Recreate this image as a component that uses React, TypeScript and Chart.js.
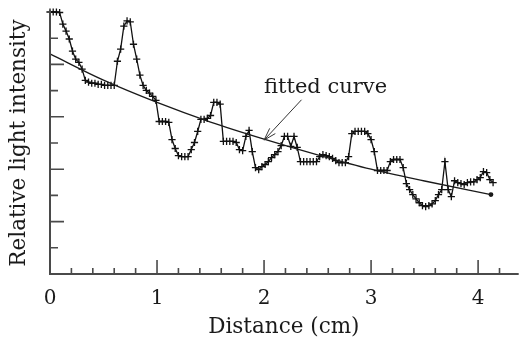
import React, { useEffect, useRef } from 'react';
import { Chart, registerables } from 'chart.js';

Chart.register(...registerables);

// Distance along the sample (cm)
const DISTANCE = [
  0, 0.03, 0.06, 0.09, 0.12, 0.15, 0.18, 0.21, 0.24, 0.27,
  0.3, 0.33, 0.36, 0.39, 0.42, 0.45, 0.48, 0.51, 0.54, 0.57,
  0.6, 0.63, 0.66, 0.69, 0.72, 0.75, 0.78, 0.81, 0.84, 0.87,
  0.9, 0.93, 0.96, 0.99, 1.02, 1.05, 1.08, 1.11, 1.14, 1.17,
  1.2, 1.23, 1.26, 1.29, 1.32, 1.35, 1.38, 1.41, 1.44, 1.47,
  1.5, 1.53, 1.56, 1.59, 1.62, 1.65, 1.68, 1.71, 1.74, 1.77,
  1.8, 1.83, 1.86, 1.89, 1.92, 1.95, 1.98, 2.01, 2.04, 2.07,
  2.1, 2.13, 2.16, 2.19, 2.22, 2.25, 2.28, 2.31, 2.34, 2.37,
  2.4, 2.43, 2.46, 2.49, 2.52, 2.55, 2.58, 2.61, 2.64, 2.67,
  2.7, 2.73, 2.76, 2.79, 2.82, 2.85, 2.88, 2.91, 2.94, 2.97,
  3.0, 3.03, 3.06, 3.09, 3.12, 3.15, 3.18, 3.21, 3.24, 3.27,
  3.3, 3.33, 3.36, 3.39, 3.42, 3.45, 3.48, 3.51, 3.54, 3.57,
  3.6, 3.63, 3.66, 3.69, 3.72, 3.75, 3.78, 3.81, 3.84, 3.87,
  3.9, 3.93, 3.96, 3.99, 4.02, 4.05, 4.08, 4.11, 4.14,
];

// Measured relative light intensity
const INTENSITY = [
  10.0, 10.0, 10.0, 9.98, 9.54, 9.27, 8.97, 8.51, 8.2, 8.08,
  7.82, 7.39, 7.32, 7.28, 7.28, 7.24, 7.24, 7.2, 7.2, 7.2,
  7.2, 8.12, 8.58, 9.46, 9.66, 9.62, 8.77, 8.2, 7.59, 7.2,
  7.01, 6.9, 6.78, 6.63, 5.82, 5.82, 5.82, 5.79, 5.13, 4.79,
  4.52, 4.48, 4.48, 4.48, 4.75, 5.02, 5.44, 5.9, 5.9, 5.94,
  6.05, 6.55, 6.55, 6.48, 5.06, 5.06, 5.06, 5.06, 5.02, 4.75,
  4.71, 5.25, 5.48, 4.67, 4.06, 3.98, 4.1, 4.18, 4.29, 4.44,
  4.56, 4.67, 4.9, 5.25, 5.25, 4.87, 5.25, 4.83, 4.29, 4.29,
  4.29, 4.29, 4.29, 4.29, 4.48, 4.56, 4.52, 4.48, 4.41, 4.33,
  4.25, 4.25, 4.25, 4.48, 5.36, 5.44, 5.44, 5.44, 5.44, 5.36,
  5.13, 4.67, 3.95, 3.95, 3.95, 3.95, 4.29, 4.37, 4.37, 4.37,
  4.06, 3.45, 3.22, 3.03, 2.87, 2.72, 2.61, 2.57, 2.61, 2.68,
  2.8, 3.03, 3.22, 4.29, 3.22, 2.95, 3.56, 3.49, 3.45, 3.41,
  3.49, 3.52, 3.52, 3.6, 3.68, 3.91, 3.87, 3.6, 3.49,
];

// Fitted curve
const FIT_DISTANCE = [0, 0.5, 1, 1.5, 2, 2.5, 3, 3.5, 4.12];
const FIT_INTENSITY = [8.4, 7.4, 6.55, 5.8, 5.15, 4.55, 4.0, 3.55, 3.03];

// Axis ticks
const X_MAJOR = [0, 1, 2, 3, 4];
const X_MINOR = [0.2, 0.4, 0.6, 0.8, 1.2, 1.4, 1.6, 1.8, 2.2, 2.4, 2.6, 2.8, 3.2, 3.4, 3.6, 3.8, 4.2];
const Y_TICKS = [1, 2, 3, 4, 5, 6, 7, 8, 9];

const X_TITLE = 'Distance (cm)';
const Y_TITLE = 'Relative light intensity';
const NOTE_TEXT = 'fitted curve';

const FONT = '"DejaVu Serif", serif';
const INK = '#1a1a1a';
const AXIS = '#4a4a4a';

const axesPlugin = {
  id: 'inwardAxes',
  afterDatasetsDraw(chart: any) {
    const { ctx, chartArea, scales } = chart;
    const x = scales.x;
    const y = scales.y;
    const x0 = x.getPixelForValue(0);
    const yb = y.getPixelForValue(0);
    ctx.save();
    ctx.strokeStyle = AXIS;
    ctx.lineWidth = 2;
    ctx.beginPath();
    ctx.moveTo(x0, y.getPixelForValue(10) - 2);
    ctx.lineTo(x0, yb);
    ctx.lineTo(chartArea.right + 1, yb);
    ctx.stroke();
    ctx.lineWidth = 1.6;
    ctx.beginPath();
    X_MAJOR.forEach((v) => {
      const p = x.getPixelForValue(v);
      ctx.moveTo(p, yb);
      ctx.lineTo(p, yb - 14);
    });
    X_MINOR.forEach((v) => {
      const p = x.getPixelForValue(v);
      ctx.moveTo(p, yb);
      ctx.lineTo(p, yb - 6);
    });
    Y_TICKS.forEach((v, i) => {
      const p = y.getPixelForValue(v);
      ctx.moveTo(x0, p);
      ctx.lineTo(x0 + (i % 2 === 0 ? 8 : 14), p);
    });
    ctx.stroke();
    ctx.restore();
  },
};

const notePlugin = {
  id: 'fitNote',
  afterDatasetsDraw(chart: any) {
    const { ctx, scales } = chart;
    const x = scales.x;
    const y = scales.y;
    // arrow tip sits on the fitted curve at x = 2
    const tipX = x.getPixelForValue(FIT_DISTANCE[4]);
    const tipY = y.getPixelForValue(FIT_INTENSITY[4]) + 1;
    const tailX = x.getPixelForValue(2.35);
    const tailY = y.getPixelForValue(6.65);
    ctx.save();
    ctx.strokeStyle = '#333';
    ctx.lineWidth = 1;
    ctx.beginPath();
    ctx.moveTo(tailX, tailY);
    ctx.lineTo(tipX, tipY);
    const ang = Math.atan2(tipY - tailY, tipX - tailX);
    const len = 13;
    const spread = 0.3;
    ctx.moveTo(tipX, tipY);
    ctx.lineTo(tipX - len * Math.cos(ang - spread), tipY - len * Math.sin(ang - spread));
    ctx.moveTo(tipX, tipY);
    ctx.lineTo(tipX - len * Math.cos(ang + spread), tipY - len * Math.sin(ang + spread));
    ctx.stroke();
    ctx.fillStyle = INK;
    ctx.font = `21px ${FONT}`;
    ctx.textAlign = 'left';
    ctx.textBaseline = 'alphabetic';
    ctx.fillText(NOTE_TEXT, x.getPixelForValue(2.0), y.getPixelForValue(6.91));
    ctx.restore();
  },
};

export default function App() {
  const ref = useRef<HTMLCanvasElement | null>(null);

  useEffect(() => {
    if (!ref.current) return;
    const measured = DISTANCE.map((d, i) => ({ x: d, y: INTENSITY[i] }));
    const fitted = FIT_DISTANCE.map((d, i) => ({ x: d, y: FIT_INTENSITY[i] }));
    const chart = new Chart(ref.current, {
      type: 'scatter',
      data: {
        datasets: [
          {
            label: 'fitted curve',
            data: fitted,
            showLine: true,
            borderColor: '#1a1a1a',
            borderWidth: 1.3,
            cubicInterpolationMode: 'monotone',
            pointRadius: FIT_DISTANCE.map((_, i) => (i === FIT_DISTANCE.length - 1 ? 1.8 : 0)),
            pointBackgroundColor: '#1a1a1a',
            pointBorderColor: '#1a1a1a',
            clip: false,
          } as any,
          {
            label: 'measured',
            data: measured,
            showLine: true,
            borderColor: '#111',
            borderWidth: 1.3,
            pointStyle: 'cross',
            pointRadius: 3.6,
            pointBorderWidth: 1.3,
            pointBorderColor: '#111',
            clip: false,
          } as any,
        ],
      },
      options: {
        responsive: false,
        animation: false,
        devicePixelRatio: 1,
        layout: { padding: { top: 12, right: 1, left: 0, bottom: 0 } },
        plugins: { legend: { display: false }, tooltip: { enabled: false } },
        scales: {
          x: {
            type: 'linear',
            min: 0,
            max: 4.37,
            grid: { display: false, drawTicks: false },
            border: { display: false },
            afterBuildTicks: (s: any) => {
              s.ticks = X_MAJOR.map((v) => ({ value: v }));
            },
            afterFit: (s: any) => {
              s.height = 73;
            },
            ticks: {
              color: INK,
              padding: 13,
              maxRotation: 0,
              font: { family: FONT, size: 20 },
              callback: (v: any) => String(v),
            },
            title: {
              display: true,
              text: X_TITLE,
              color: INK,
              font: { family: FONT, size: 21.5 },
              padding: { top: 0, bottom: 7 },
            },
          },
          y: {
            type: 'linear',
            min: 0,
            max: 10,
            grid: { display: false, drawTicks: false },
            border: { display: false },
            ticks: { display: false },
            afterFit: (s: any) => {
              s.width = 50;
            },
            title: {
              display: true,
              text: Y_TITLE,
              color: INK,
              font: { family: FONT, size: 21.5 },
              padding: { top: 7, bottom: 0 },
            },
          },
        },
      },
      plugins: [axesPlugin, notePlugin],
    });
    return () => chart.destroy();
  }, []);

  return (
    <div style={{ position: 'fixed', left: 0, top: 0, width: 523, height: 347, background: '#fff' }}>
      <canvas ref={ref} width={523} height={347} />
    </div>
  );
}
